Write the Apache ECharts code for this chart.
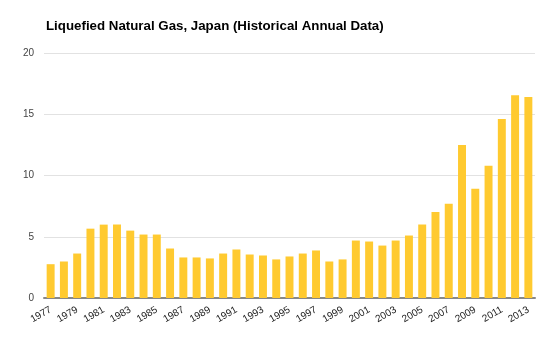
<!DOCTYPE html>
<html>
<head>
<meta charset="utf-8">
<script src="https://cdn.jsdelivr.net/npm/echarts@6/dist/echarts.min.js"></script>
<style>
html,body{margin:0;padding:0;background:#fff;}
#chart{width:552px;height:351px;}
</style>
</head>
<body>
<div id="chart"></div>
<script>
var years = ['1977','1978','1979','1980','1981','1982','1983','1984','1985','1986','1987','1988','1989','1990','1991','1992','1993','1994','1995','1996','1997','1998','1999','2000','2001','2002','2003','2004','2005','2006','2007','2008','2009','2010','2011','2012','2013'];
var values = [2.76,2.98,3.63,5.66,5.99,6.0,5.5,5.18,5.18,4.04,3.31,3.31,3.23,3.63,3.96,3.55,3.47,3.15,3.39,3.63,3.88,2.98,3.15,4.69,4.61,4.28,4.69,5.1,6.0,7.02,7.7,12.5,8.92,10.79,14.61,16.56,16.4];
var yTicks = [0,5,10,15,20];
var title = 'Liquefied Natural Gas, Japan (Historical Annual Data)';

var chart = echarts.init(document.getElementById('chart'), null, {renderer:'canvas'});
chart.setOption({
  animation:false,
  backgroundColor:'#fff',
  title:{
    text:title,
    left:41, top:15,
    textStyle:{fontFamily:'Liberation Sans, Arial, sans-serif',fontSize:13.3,fontWeight:'bold',color:'#000'}
  },
  grid:{left:44,right:17,top:53,bottom:53,containLabel:false},
  xAxis:{
    type:'category',
    data:years,
    axisLine:{show:true,lineStyle:{color:'#888',width:2}},
    axisTick:{show:false},
    axisLabel:{interval:1,rotate:30,fontSize:10,color:'#222',fontFamily:'Liberation Sans, Arial, sans-serif',margin:11}
  },
  yAxis:{
    type:'value',
    min:yTicks[0],max:yTicks[yTicks.length-1],interval:5,
    axisLine:{show:false},
    axisTick:{show:false},
    axisLabel:{fontSize:10,color:'#444',fontFamily:'Liberation Sans, Arial, sans-serif',margin:10},
    splitLine:{lineStyle:{color:'#e2e2e2',width:1}}
  },
  series:[{
    type:'bar',
    data:values,
    barWidth:'60%',
    itemStyle:{color:'#ffca30'}
  }]
});
</script>
</body>
</html>
